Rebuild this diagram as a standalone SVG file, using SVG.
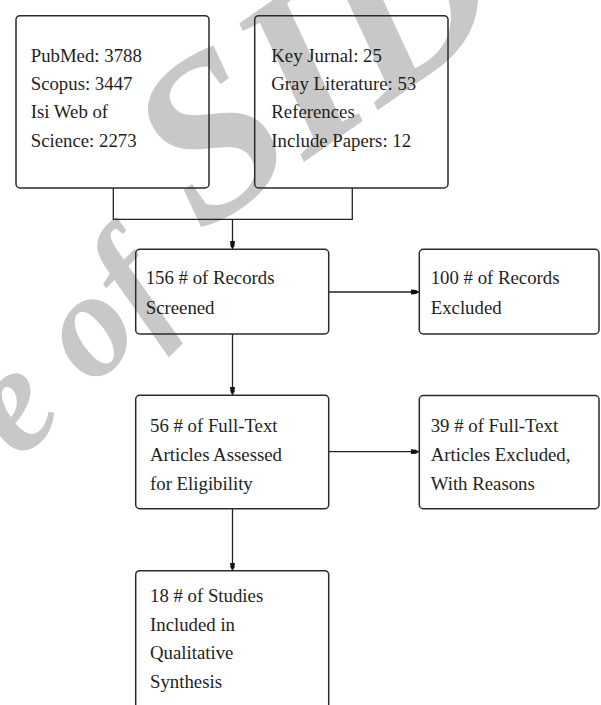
<svg xmlns="http://www.w3.org/2000/svg" width="601" height="705" viewBox="0 0 601 705">
<style>
.box{fill:none;stroke:#2b2b2b;stroke-width:1.5}
.lbl{font-family:"Liberation Serif","Times New Roman",serif;font-size:18.8px;fill:#1e1e1e}
.wm{font-family:"Liberation Serif","Times New Roman",serif;font-weight:bold;font-style:italic;fill:#c8c8c8}
.con{fill:none;stroke:#222;stroke-width:1.3}
</style>
<defs>
<marker id="ah" viewBox="0 0 8 6" refX="8" refY="3" markerWidth="8" markerHeight="6" markerUnits="userSpaceOnUse" orient="auto">
<path d="M0,0.6 L5,1 L8,3 L5,5 L0,5.4 Z" fill="#111"/>
</marker>
</defs>
<rect width="601" height="705" fill="#fff"/>
<g id="watermark">
<text class="wm" font-size="150" transform="translate(-275,756) rotate(-45)">Archive of</text>
<text class="wm" font-size="230" transform="translate(201,234) rotate(-35)">SID</text>
</g>
<g id="connectors">
<polyline class="con" points="113.3,188 113.3,219.3 352.3,219.3 352.3,188"/>
<line class="con" x1="232.5" y1="219.3" x2="232.5" y2="249" marker-end="url(#ah)"/>
<line class="con" x1="329" y1="292" x2="419" y2="292" marker-end="url(#ah)"/>
<line class="con" x1="232.5" y1="334" x2="232.5" y2="395" marker-end="url(#ah)"/>
<line class="con" x1="329" y1="451.7" x2="419" y2="451.7" marker-end="url(#ah)"/>
<line class="con" x1="232.5" y1="509" x2="232.5" y2="570.5" marker-end="url(#ah)"/>
</g>
<g id="sources-db">
<rect class="box" x="16" y="15.7" width="193" height="172.3" rx="4"/>
<text class="lbl" x="30.7" y="61.7">PubMed: 3788</text>
<text class="lbl" x="30.7" y="90">Scopus: 3447</text>
<text class="lbl" x="30.7" y="118.3">Isi Web of</text>
<text class="lbl" x="30.7" y="146.7">Science: 2273</text>
</g>
<g id="sources-other">
<rect class="box" x="254.7" y="15.7" width="193.3" height="172.3" rx="4"/>
<text class="lbl" x="271.3" y="61.7">Key Jurnal: 25</text>
<text class="lbl" x="271.3" y="90">Gray Literature: 53</text>
<text class="lbl" x="271.3" y="118.3">References</text>
<text class="lbl" x="271.3" y="146.7">Include Papers: 12</text>
</g>
<g id="screened">
<rect class="box" x="135.7" y="249.3" width="193" height="84.7" rx="4"/>
<text class="lbl" x="145.7" y="284.3">156 # of Records</text>
<text class="lbl" x="145.7" y="314">Screened</text>
</g>
<g id="excluded">
<rect class="box" x="419.3" y="249.3" width="179.7" height="84.7" rx="4"/>
<text class="lbl" x="430.7" y="284.3">100 # of Records</text>
<text class="lbl" x="430.7" y="314">Excluded</text>
</g>
<g id="fulltext">
<rect class="box" x="135.7" y="395.3" width="193" height="113.4" rx="4"/>
<text class="lbl" x="150" y="431.7">56 # of Full-Text</text>
<text class="lbl" x="150" y="461">Articles Assessed</text>
<text class="lbl" x="150" y="490">for Eligibility</text>
</g>
<g id="fulltext-excluded">
<rect class="box" x="419.3" y="395.5" width="179.7" height="113.2" rx="4"/>
<text class="lbl" x="430.7" y="431.7">39 # of Full-Text</text>
<text class="lbl" x="430.7" y="460.5">Articles Excluded,</text>
<text class="lbl" x="430.7" y="490">With Reasons</text>
</g>
<g id="included">
<rect class="box" x="135.7" y="570.7" width="193" height="160" rx="4"/>
<text class="lbl" x="150" y="601.7">18 # of Studies</text>
<text class="lbl" x="150" y="630.7">Included in</text>
<text class="lbl" x="150" y="659.3">Qualitative</text>
<text class="lbl" x="150" y="688.3">Synthesis</text>
</g>
</svg>
